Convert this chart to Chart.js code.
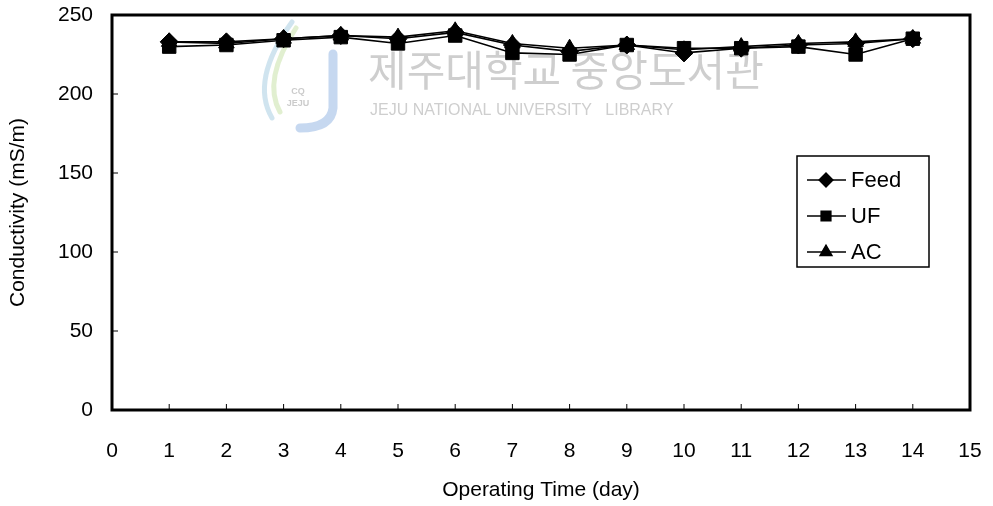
<!DOCTYPE html>
<html>
<head>
<meta charset="utf-8">
<script src="https://cdn.jsdelivr.net/npm/chart.js@4.4.1/dist/chart.umd.min.js"></script>
<style>
  html, body { margin: 0; padding: 0; background: #fff; }
  #wrap { width: 993px; height: 506px; }
</style>
</head>
<body>
<div id="wrap"><canvas id="c" width="993" height="506"></canvas></div>
<script>
// data
const days = [1, 2, 3, 4, 5, 6, 7, 8, 9, 10, 11, 12, 13, 14];
const feed = [233, 233, 235, 237, 235, 239, 231, 227, 231, 226, 229, 231, 232, 235];
const uf = [230, 231, 234, 236, 232, 237, 226, 225, 231, 229, 229, 230, 225, 235];
const ac = [233, 232, 235, 237, 236, 240, 232, 229, 231, 228, 230, 232, 233, 235];
const xTicks = [0, 1, 2, 3, 4, 5, 6, 7, 8, 9, 10, 11, 12, 13, 14, 15];
const yTicks = [0, 50, 100, 150, 200, 250];

const FONT = "'Liberation Sans', Arial, sans-serif";

const pts = arr => arr.map((v, i) => ({ x: days[i], y: v }));

function series(label, data, style, r) {
  return {
    label: label,
    data: pts(data),
    borderColor: '#000',
    backgroundColor: '#000',
    borderWidth: 1.6,
    pointStyle: style,
    pointRadius: r,
    pointBorderWidth: 1,
    tension: 0
  };
}

// faint library watermark behind the plot
const watermark = {
  id: 'watermark',
  beforeDatasetsDraw(chart) {
    const ctx = chart.ctx;
    ctx.save();
    // logo: drop strokes + J
    ctx.lineCap = 'round';
    ctx.lineWidth = 5;
    ctx.strokeStyle = 'rgba(170,205,225,0.55)';
    ctx.beginPath(); ctx.moveTo(292, 22); ctx.quadraticCurveTo(250, 80, 272, 118); ctx.stroke();
    ctx.strokeStyle = 'rgba(200,225,170,0.55)';
    ctx.beginPath(); ctx.moveTo(296, 28); ctx.quadraticCurveTo(262, 80, 280, 112); ctx.stroke();
    ctx.lineWidth = 9;
    ctx.strokeStyle = 'rgba(160,190,230,0.6)';
    ctx.beginPath(); ctx.moveTo(333, 54); ctx.lineTo(333, 108); ctx.quadraticCurveTo(331, 128, 300, 128); ctx.stroke();
    ctx.fillStyle = 'rgba(190,190,190,0.8)';
    ctx.textAlign = 'center';
    ctx.textBaseline = 'middle';
    ctx.font = "bold 9px " + FONT;
    ctx.fillText('CQ', 298, 92);
    ctx.fillText('JEJU', 298, 104);

    ctx.fillStyle = 'rgba(190,190,190,0.75)';
    ctx.textAlign = 'left';
    ctx.font = "42px 'Noto Sans CJK KR'";
    ctx.fillText('제주대학교 중앙도서관', 368, 70);
    ctx.font = "16px " + FONT;
    ctx.fillText('JEJU NATIONAL UNIVERSITY   LIBRARY', 370, 111);
    ctx.restore();
  }
};

// frame, inward ticks and the boxed legend
const frame = {
  id: 'frame',
  afterDraw(chart) {
    const ctx = chart.ctx;
    const a = chart.chartArea;
    const xs = chart.scales.x, ys = chart.scales.y;
    ctx.save();
    ctx.strokeStyle = '#000';
    ctx.lineWidth = 1;
    xTicks.forEach(t => {
      const px = xs.getPixelForValue(t);
      ctx.beginPath(); ctx.moveTo(px, a.bottom); ctx.lineTo(px, a.bottom - 6); ctx.stroke();
    });
    yTicks.forEach(t => {
      const py = ys.getPixelForValue(t);
      ctx.beginPath(); ctx.moveTo(a.left, py); ctx.lineTo(a.left + 6, py); ctx.stroke();
    });
    ctx.lineWidth = 3;
    ctx.strokeRect(a.left, a.top, a.right - a.left, a.bottom - a.top);

    // legend
    const lx = 797, ly = 156, lw = 132, lh = 111;
    ctx.lineWidth = 1.5;
    ctx.strokeRect(lx, ly, lw, lh);
    ctx.font = "22px " + FONT;
    ctx.fillStyle = '#000';
    ctx.textBaseline = 'middle';
    ctx.textAlign = 'left';
    chart.data.datasets.forEach((ds, i) => {
      const cy = ly + 24 + i * 36;
      ctx.lineWidth = 1.3;
      ctx.beginPath(); ctx.moveTo(lx + 10, cy); ctx.lineTo(lx + 49, cy); ctx.stroke();
      Chart.helpers.drawPoint(ctx, { pointStyle: ds.pointStyle, radius: 7, borderWidth: 1, rotation: 0 }, lx + 29, cy);
      ctx.fill();
      ctx.fillText(ds.label, lx + 54, cy + 1);
    });
    ctx.restore();
  }
};

new Chart(document.getElementById('c'), {
  type: 'line',
  data: {
    datasets: [
      series('Feed', feed, 'rectRot', 9),
      series('UF', uf, 'rect', 9.5),
      series('AC', ac, 'triangle', 9)
    ]
  },
  options: {
    responsive: false,
    animation: false,
    layout: { padding: { top: 15, right: 23, left: 0, bottom: 0 } },
    plugins: { legend: { display: false }, tooltip: { enabled: false } },
    scales: {
      x: {
        type: 'linear',
        min: 0, max: 15,
        afterBuildTicks: s => { s.ticks = xTicks.map(v => ({ value: v })); },
        afterFit: s => { s.height = 96; s.paddingLeft = 0; s.paddingRight = 0; },
        grid: { display: false, drawTicks: false },
        border: { display: false },
        ticks: { color: '#000', font: { family: FONT, size: 21 }, padding: 29, maxRotation: 0, autoSkip: false },
        title: { display: true, text: 'Operating Time (day)', color: '#000', font: { family: FONT, size: 21 }, padding: { top: 4, bottom: 3 } }
      },
      y: {
        min: 0, max: 250,
        afterBuildTicks: s => { s.ticks = yTicks.map(v => ({ value: v })); },
        afterFit: s => { s.width = 112; s.paddingTop = 0; s.paddingBottom = 0; },
        grid: { display: false, drawTicks: false },
        border: { display: false },
        ticks: { color: '#000', font: { family: FONT, size: 21 }, padding: 19 },
        title: { display: true, text: 'Conductivity (mS/m)', color: '#000', font: { family: FONT, size: 21 }, padding: { top: 6, bottom: 4 } }
      }
    }
  },
  plugins: [watermark, frame]
});
</script>
</body>
</html>
